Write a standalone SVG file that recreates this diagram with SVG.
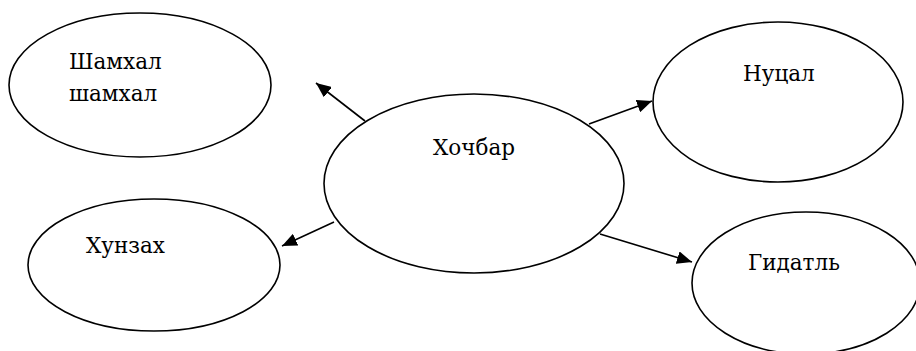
<svg xmlns="http://www.w3.org/2000/svg" width="916" height="351" viewBox="0 0 916 351">
<style>
.node ellipse{fill:#fff;stroke:#000;stroke-width:1.6}
.lbl{font-family:'DejaVu Serif','Liberation Serif',serif;font-size:21.5px;fill:#000}
.edges line{stroke:#000;stroke-width:1.6}
</style>
<defs>
<marker id="ah" markerUnits="userSpaceOnUse" markerWidth="16" markerHeight="13" refX="15" refY="6.5" orient="auto">
<path d="M0,0 L15,6.5 L0,13 z" fill="#000"/>
</marker>
</defs>
<rect width="916" height="351" fill="#fff"/>
<g id="shamkhal" class="node"><ellipse cx="140" cy="85" rx="131" ry="72"/><text class="lbl" x="69" y="69">Шамхал</text><text class="lbl" x="69" y="101">шамхал</text></g>
<g id="khunzakh" class="node"><ellipse cx="154" cy="265" rx="126" ry="66"/><text class="lbl" x="86" y="253">Хунзах</text></g>
<g id="khochbar" class="node"><ellipse cx="474" cy="183.5" rx="150" ry="89.5"/><text class="lbl" x="433" y="155">Хочбар</text></g>
<g id="nutsal" class="node"><ellipse cx="778" cy="102" rx="125" ry="80"/><text class="lbl" x="743" y="81">Нуцал</text></g>
<g id="gidatl" class="node"><ellipse cx="806" cy="283" rx="114" ry="71"/><text class="lbl" x="748" y="270">Гидатль</text></g>
<g id="edges" class="edges">
<line x1="365" y1="121" x2="316" y2="83" marker-end="url(#ah)"/>
<line x1="334" y1="222" x2="282" y2="246" marker-end="url(#ah)"/>
<line x1="589" y1="124" x2="652" y2="101" marker-end="url(#ah)"/>
<line x1="600" y1="234" x2="692" y2="262" marker-end="url(#ah)"/>
</g>
</svg>
